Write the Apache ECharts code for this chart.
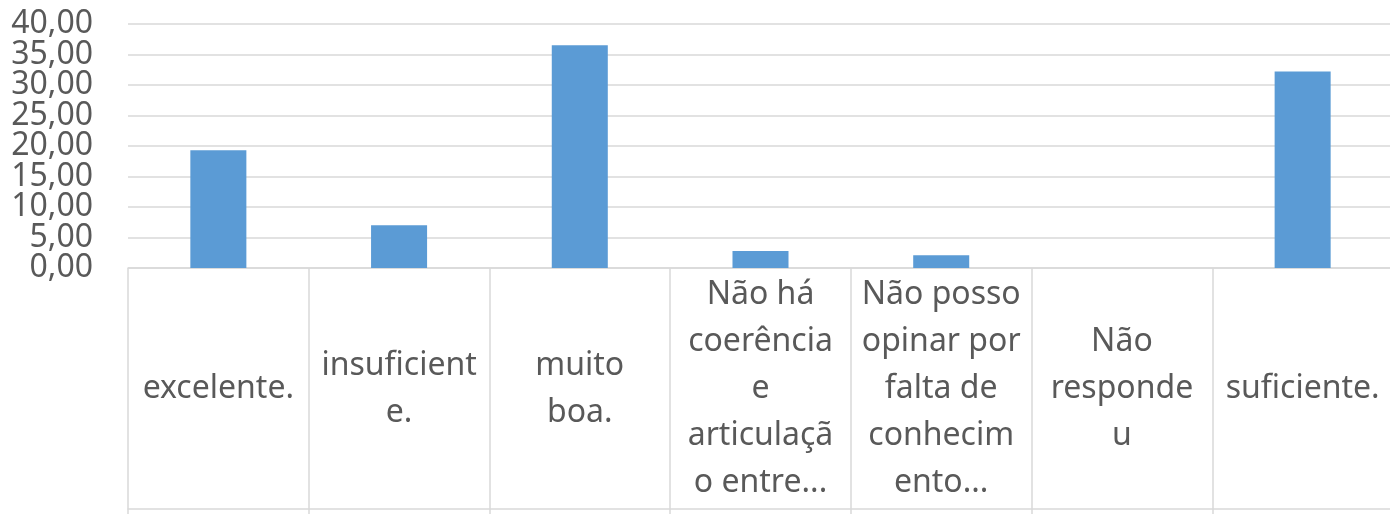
<!DOCTYPE html>
<html>
<head>
<meta charset="utf-8">
<script src="https://cdn.jsdelivr.net/npm/echarts@6/dist/echarts.min.js"></script>
<style>
html,body{margin:0;padding:0;background:#fff;}
#chart{width:1390px;height:514px;}
</style>
</head>
<body>
<div id="chart"></div>
<script>
const categories = [
  "excelente.",
  "insuficient\ne.",
  "muito\nboa.",
  "Não há\ncoerência\ne\narticulaçã\no entre...",
  "Não posso\nopinar por\nfalta de\nconhecim\nento...",
  "Não\nresponde\nu",
  "suficiente."
];
const values = [19.3, 7.0, 36.5, 2.8, 2.1, 0, 32.2];
const yMin = 0, yMax = 40, yStep = 5;

const chart = echarts.init(document.getElementById('chart'), null, {renderer: 'canvas'});
const textColor = '#595959';
const gridColor = '#d9d9d9';
const font = '"Noto Sans", sans-serif';
const fmt = v => v.toFixed(2).replace('.', ',');

function yAxisDef(showEven) {
  return {
    type: 'value',
    position: 'left',
    min: yMin, max: yMax, interval: yStep,
    axisLine: {show: false},
    axisTick: {show: false},
    splitLine: {show: showEven, lineStyle: {color: gridColor, width: 1.5}},
    axisLabel: {
      color: textColor, fontFamily: font, fontSize: 32, lineHeight: 30, margin: 35,
      showMinLabel: true, showMaxLabel: true,
      formatter: v => ((Math.round(v / yStep) % 2 === 0) === showEven ? fmt(v) : '')
    }
  };
}

chart.setOption({
  animation: false,
  backgroundColor: '#ffffff',
  grid: {left: 128, right: -3, top: 24, bottom: 246, containLabel: false, outerBoundsMode: 'none'},
  xAxis: [{
    type: 'category',
    data: categories,
    position: 'bottom',
    axisLine: {show: true, lineStyle: {color: gridColor, width: 1.5}},
    axisTick: {show: true, length: 246, alignWithLabel: false, lineStyle: {color: gridColor, width: 1.5}},
    axisLabel: {
      interval: 0, color: textColor, fontFamily: font, fontSize: 32,
      lineHeight: 47, margin: 121, verticalAlign: 'middle', align: 'center'
    }
  }, {
    type: 'category',
    data: categories,
    position: 'top',
    offset: -485,
    axisLine: {show: true, lineStyle: {color: gridColor, width: 1.5}},
    axisTick: {show: false},
    axisLabel: {show: false}
  }],
  yAxis: [yAxisDef(true), yAxisDef(false)],
  series: [{
    type: 'bar',
    data: values,
    barWidth: '31%',
    itemStyle: {color: '#5B9BD5', borderWidth: 0}
  }]
});
</script>
</body>
</html>
